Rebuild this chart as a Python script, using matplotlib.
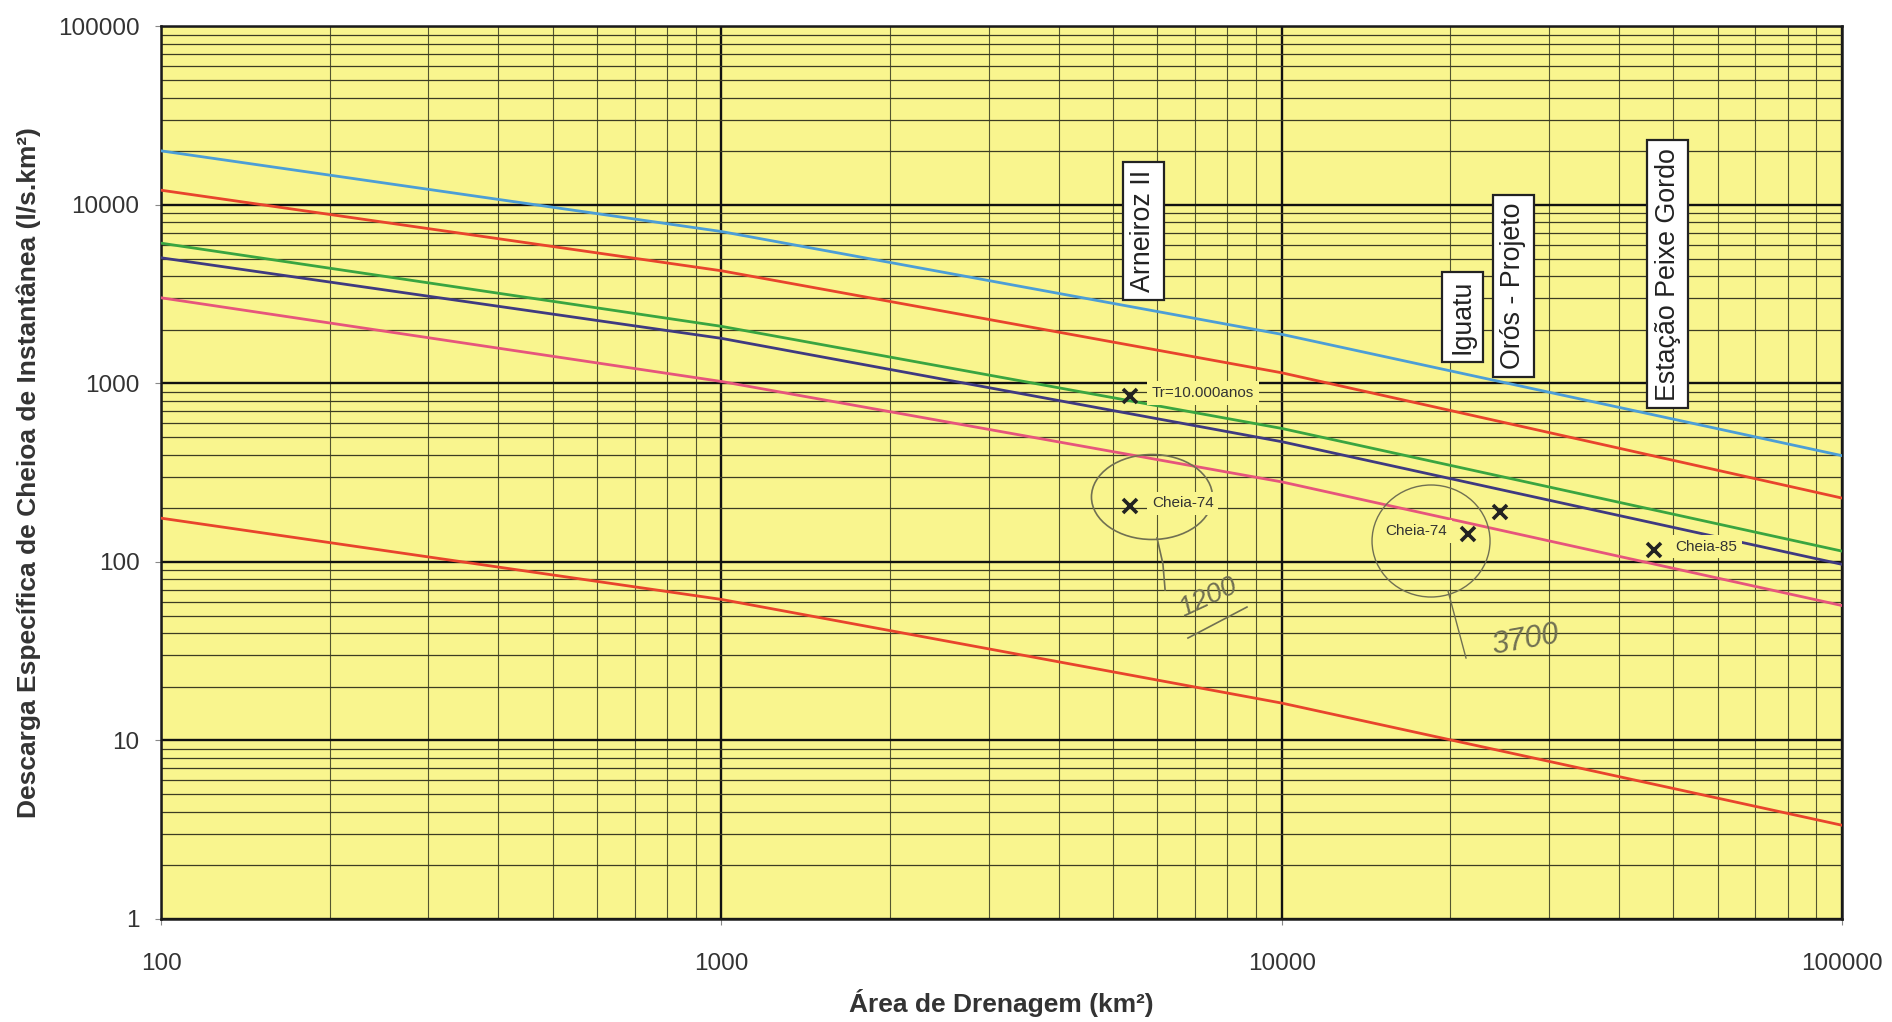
import matplotlib.pyplot as plt
from matplotlib.patches import Ellipse
from matplotlib.ticker import LogLocator, FixedLocator, NullFormatter

plt.rcParams['font.family'] = ['Liberation Sans', 'DejaVu Sans']

# drainage area (km2) where the curves were read
area = [100, 1000, 10000, 100000]

# specific discharge curves (l/s.km2)
q_blue = [20100, 7100, 1885, 394]
q_red_top = [12100, 4280, 1148, 228]
q_green = [6110, 2090, 560, 115]
q_navy = [5060, 1790, 472, 97]
q_pink = [3020, 1026, 281, 57]
q_red_bottom = [176, 61.7, 16.2, 3.35]

# observed floods
obs_area = [5360, 5360, 21500, 24500, 46200]
obs_q = [850, 205, 143, 190, 117]
obs_label = ['Tr=10.000anos', 'Cheia-74', 'Cheia-74', '', 'Cheia-85']

# station labels
stations = ['Arneiroz II', 'Iguatu', 'Orós - Projeto', 'Estação Peixe Gordo']
station_area = [5660, 21000, 25900, 48900]
station_q = [7150, 2360, 3520, 4100]

yellow = '#f9f58e'

fig = plt.figure(figsize=(18.92, 10.22), dpi=100)
ax = fig.add_axes([0.0851, 0.1008, 0.8885, 0.8733])
ax.set_facecolor(yellow)
ax.set_xscale('log')
ax.set_yscale('log')
ax.set_xlim(100, 100000)
ax.set_ylim(1, 100000)

# grid: minor first, majors heavier
ax.xaxis.set_major_locator(FixedLocator([100, 1000, 10000, 100000]))
ax.yaxis.set_major_locator(FixedLocator([1, 10, 100, 1000, 10000, 100000]))
ax.xaxis.set_minor_locator(LogLocator(base=10, subs=range(2, 10)))
ax.yaxis.set_minor_locator(LogLocator(base=10, subs=range(2, 10)))
ax.xaxis.set_minor_formatter(NullFormatter())
ax.yaxis.set_minor_formatter(NullFormatter())
ax.set_xticklabels(['100', '1000', '10000', '100000'])
ax.set_yticklabels(['1', '10', '100', '1000', '10000', '100000'])
ax.grid(which='minor', axis='x', color='#55552f', lw=0.8)
ax.grid(which='minor', axis='y', color='#3c3c22', lw=0.9)
ax.grid(which='major', color='#111111', lw=1.7)
ax.set_axisbelow(True)

ax.tick_params(which='major', length=4.5, color='#888888', labelsize=17.5,
               labelcolor='#333333')
ax.tick_params(axis='x', which='major', pad=20)
ax.tick_params(axis='y', which='major', pad=11)
ax.tick_params(which='minor', length=0)
for s in ax.spines.values():
    s.set_color('#1a1a1a')
    s.set_linewidth(1.8)

# curves
lw = 2.0
ax.plot(area, q_blue, color='#4c9ed6', lw=lw, zorder=3)
ax.plot(area, q_red_top, color='#e8442c', lw=lw, zorder=3)
ax.plot(area, q_green, color='#3aa540', lw=lw, zorder=3)
ax.plot(area, q_navy, color='#3f3a80', lw=lw, zorder=3)
ax.plot(area, q_pink, color='#e6557c', lw=lw, zorder=3)
ax.plot(area, q_red_bottom, color='#e8442c', lw=lw, zorder=3)

# observed points
ax.plot(obs_area, obs_q, 'x', color='#222222', markersize=10, mew=2.6, zorder=6)
offsets = [22, 22, -21, 0, 21]
for xa, qa, lab, off in zip(obs_area, obs_q, obs_label, offsets):
    if not lab:
        continue
    ax.annotate(lab, (xa, qa), xytext=(off, 3), textcoords='offset pixels',
                ha='left' if off > 0 else 'right', va='center', fontsize=11,
                color='#333333', zorder=5,
                bbox=dict(boxstyle='square,pad=0.3', fc=yellow, ec='none'))

# station name boxes
for name, xa, qa in zip(stations, station_area, station_q):
    ax.text(xa, qa, name, rotation=90, ha='center', va='center', fontsize=19.3,
            color='#222222', zorder=7,
            bbox=dict(boxstyle='square,pad=0.28', fc='white', ec='#222222', lw=1.6))

# pen marks on the sheet
pen = '#707052'
ax.add_patch(Ellipse((0.5895, 0.4728), 0.072, 0.0952, transform=ax.transAxes,
                     fill=False, ec=pen, lw=1.2, zorder=4))
ax.add_patch(Ellipse((0.7555, 0.4235), 0.0702, 0.1255, transform=ax.transAxes,
                     fill=False, ec=pen, lw=1.0, zorder=4))
ax.plot([0.5925, 0.5960, 0.5973], [0.4269, 0.3980, 0.3686], color=pen, lw=1.2,
        transform=ax.transAxes, zorder=4)
ax.plot([0.6109, 0.6460], [0.3148, 0.3495], color=pen, lw=1.2,
        transform=ax.transAxes, zorder=4)
ax.plot([0.7656, 0.7763], [0.3675, 0.2924], color=pen, lw=1.0,
        transform=ax.transAxes, zorder=4)
ax.text(0.6228, 0.3597, '1200', rotation=25, ha='center', va='center',
        fontsize=20, fontstyle='italic', color=pen, transform=ax.transAxes, zorder=4)
ax.text(0.8114, 0.3126, '3700', rotation=10, ha='center', va='center',
        fontsize=22, fontstyle='italic', color=pen, transform=ax.transAxes, zorder=4)

ax.set_xlabel('Área de Drenagem (km²)', fontsize=19, fontweight='bold',
              color='#333333', labelpad=10)
ax.set_ylabel('Descarga Específica de Cheioa de Instantânea (l/s.km²)', fontsize=19,
              fontweight='bold', color='#333333', labelpad=12)

fig.savefig('out.png', dpi=100, facecolor='white')
